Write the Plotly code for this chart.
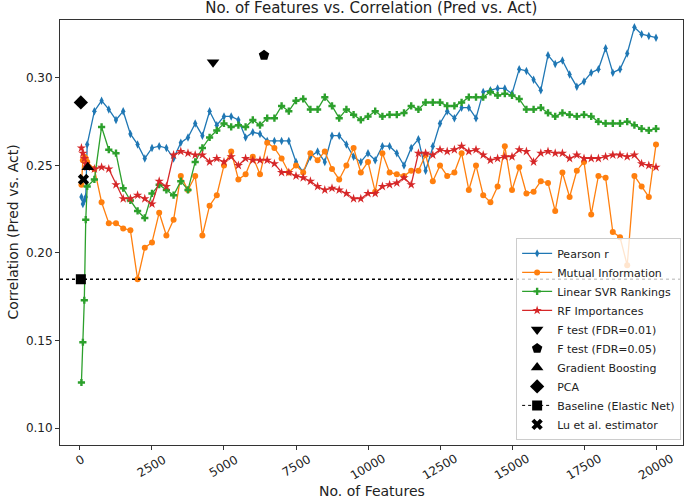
import plotly.graph_objects as go

# feature counts evaluated
features = [50, 100, 150, 200] + list(range(250, 20001, 250))
x_ticks = [0, 2500, 5000, 7500, 10000, 12500, 15000, 17500, 20000]
y_ticks = [0.10, 0.15, 0.20, 0.25, 0.30]

pearson_r = [0.232, 0.228, 0.230, 0.232,
             0.262, 0.281, 0.287, 0.282, 0.276, 0.281, 0.268, 0.262, 0.254, 0.260,
             0.261, 0.260, 0.254, 0.263, 0.266, 0.274, 0.267, 0.281,
             0.273, 0.278, 0.278, 0.276, 0.266, 0.269, 0.268, 0.264, 0.264, 0.264,
             0.264, 0.252, 0.246, 0.255, 0.258, 0.252, 0.267, 0.267, 0.262, 0.255,
             0.252, 0.257, 0.253, 0.261, 0.261, 0.257, 0.250, 0.260, 0.265, 0.247,
             0.261, 0.274, 0.281, 0.277, 0.283, 0.283, 0.277, 0.292, 0.293, 0.294,
             0.294, 0.291, 0.305, 0.304, 0.299, 0.293, 0.313, 0.308, 0.310, 0.302,
             0.295, 0.298, 0.303, 0.305, 0.317, 0.303, 0.305, 0.314, 0.329, 0.325,
             0.324, 0.323]

mutual_info = [0.239, 0.253, 0.255, 0.254,
               0.252, 0.248, 0.229, 0.217, 0.217, 0.214, 0.213, 0.185, 0.203, 0.206,
               0.223, 0.210, 0.219, 0.244, 0.236, 0.244, 0.210, 0.227,
               0.233, 0.250, 0.258, 0.242, 0.245, 0.255, 0.245, 0.263, 0.260, 0.254,
               0.246, 0.250, 0.246, 0.257, 0.253, 0.258, 0.248, 0.242, 0.250, 0.260,
               0.246, 0.252, 0.235, 0.257, 0.246, 0.245, 0.244, 0.247, 0.247, 0.256,
               0.241, 0.250, 0.244, 0.246, 0.257, 0.236, 0.250, 0.233, 0.229, 0.238,
               0.261, 0.236, 0.249, 0.234, 0.235, 0.241, 0.240, 0.224, 0.246, 0.232,
               0.247, 0.252, 0.222, 0.244, 0.243, 0.212, 0.209, 0.193, 0.244, 0.238,
               0.232, 0.262]

svr_rank = [0.126, 0.149, 0.173, 0.219,
            0.238, 0.242, 0.272, 0.259, 0.257, 0.237, 0.230, 0.224, 0.220, 0.234,
            0.239, 0.236, 0.233, 0.241, 0.236, 0.252, 0.260, 0.266,
            0.270, 0.274, 0.272, 0.273, 0.272, 0.276, 0.273, 0.277, 0.277, 0.284,
            0.281, 0.287, 0.288, 0.282, 0.282, 0.289, 0.284, 0.277, 0.282, 0.279,
            0.276, 0.278, 0.281, 0.278, 0.279, 0.279, 0.280, 0.284, 0.282, 0.286,
            0.286, 0.286, 0.284, 0.284, 0.286, 0.289, 0.289, 0.289, 0.292, 0.290,
            0.291, 0.290, 0.288, 0.282, 0.282, 0.283, 0.280, 0.278, 0.280, 0.279,
            0.278, 0.279, 0.278, 0.275, 0.274, 0.274, 0.274, 0.275, 0.273, 0.271,
            0.270, 0.271]

rf_imp = [0.260, 0.257, 0.254, 0.251,
          0.249, 0.248, 0.249, 0.248, 0.239, 0.231, 0.231, 0.233, 0.231, 0.228,
          0.241, 0.238, 0.256, 0.258, 0.257, 0.256, 0.256, 0.252,
          0.254, 0.252, 0.255, 0.250, 0.254, 0.253, 0.253, 0.253, 0.251, 0.246,
          0.246, 0.244, 0.243, 0.241, 0.238, 0.236, 0.237, 0.236, 0.234, 0.231,
          0.231, 0.234, 0.234, 0.238, 0.239, 0.240, 0.243, 0.239, 0.257, 0.257,
          0.256, 0.259, 0.258, 0.259, 0.261, 0.258, 0.259, 0.256, 0.253, 0.254,
          0.255, 0.255, 0.259, 0.258, 0.252, 0.257, 0.258, 0.257, 0.257, 0.254,
          0.256, 0.254, 0.254, 0.254, 0.255, 0.256, 0.256, 0.255, 0.256, 0.251,
          0.250, 0.249]

# single-point methods: (n features, correlation)
ftest_01 = (4620, 0.309)
ftest_05 = (6390, 0.313)
grad_boost = (270, 0.249)
pca = (30, 0.286)
baseline = (30, 0.185)
lu_est = (120, 0.242)

fig = go.Figure()

curves = [
    ("Pearson r", pearson_r, "#1f77b4", "diamond-tall", 6),
    ("Mutual Information", mutual_info, "#ff7f0e", "circle", 6),
    ("Linear SVR Rankings", svr_rank, "#2ca02c", "cross", 6),
    ("RF Importances", rf_imp, "#d62728", "star", 7),
]
for name, vals, col, sym, sz in curves:
    fig.add_trace(go.Scatter(
        x=features, y=vals, name=name, mode="lines+markers",
        line=dict(color=col, width=1.3),
        marker=dict(symbol=sym, size=sz, color=col)))

fig.add_hline(y=baseline[1], line=dict(color="black", width=1.5, dash="dot"))

points = [
    ("F test (FDR=0.01)", ftest_01, "triangle-down", 11, "markers", None),
    ("F test (FDR=0.05)", ftest_05, "pentagon", 11, "markers", None),
    ("Gradient Boosting", grad_boost, "triangle-up", 11, "markers", None),
    ("PCA", pca, "diamond", 11, "markers", None),
    ("Baseline (Elastic Net)", baseline, "square", 10, "lines+markers", "dot"),
    ("Lu et al. estimator", lu_est, "x", 10, "markers", None),
]
for name, (px_, py_), sym, sz, mode, dash in points:
    fig.add_trace(go.Scatter(
        x=[px_], y=[py_], name=name, mode=mode,
        line=dict(color="black", width=1, dash=dash or "solid"),
        marker=dict(symbol=sym, size=sz, color="black")))

axis_style = dict(showline=True, linecolor="#333333", linewidth=1, mirror=True,
                  ticks="outside", ticklen=4, tickcolor="#333333",
                  showgrid=False, zeroline=False, automargin=False,
                  tickfont=dict(size=12, color="#222222"))

fig.update_xaxes(range=[-694, 20937], tickvals=x_ticks, showticklabels=False, **axis_style)
fig.update_yaxes(range=[0.0903, 0.3331], tickvals=y_ticks, tickformat=".2f", **axis_style)

# matplotlib-style rotated tick labels, centred on each tick
for t in x_ticks:
    fig.add_annotation(x=t, xref="x", y=0, yref="paper", text=str(t),
                       textangle=-30, xanchor="center", yanchor="top", yshift=-4,
                       showarrow=False, font=dict(size=12, color="#222222"))

fig.add_annotation(x=0.5, xref="paper", y=-0.108, yref="paper", text="No. of Features",
                   xanchor="center", yanchor="middle", showarrow=False,
                   font=dict(size=14, color="#222222"))
fig.add_annotation(x=-0.077, xref="paper", y=0.5, yref="paper",
                   text="Correlation (Pred vs. Act)", textangle=-90,
                   xanchor="center", yanchor="middle", showarrow=False,
                   font=dict(size=14, color="#222222"))

fig.update_layout(
    width=685, height=499,
    margin=dict(l=60, r=2, t=20, b=54),
    plot_bgcolor="white", paper_bgcolor="white",
    font=dict(family="DejaVu Sans, sans-serif", color="#222222"),
    title=dict(text="No. of Features vs. Correlation (Pred vs. Act)",
               x=0.542, xanchor="center", y=1.0, yanchor="top", pad=dict(t=2),
               font=dict(size=15)),
    legend=dict(x=0.997, xanchor="right", y=0.012, yanchor="bottom",
                bgcolor="rgba(255,255,255,0.8)", bordercolor="#cccccc", borderwidth=1,
                font=dict(size=11), tracegroupgap=0),
)

# drop the page's default body margin so the figure sits at the window's corner
fig.write_html("out.html", config={"displayModeBar": False},
               post_script="document.body.style.margin = '0';")
